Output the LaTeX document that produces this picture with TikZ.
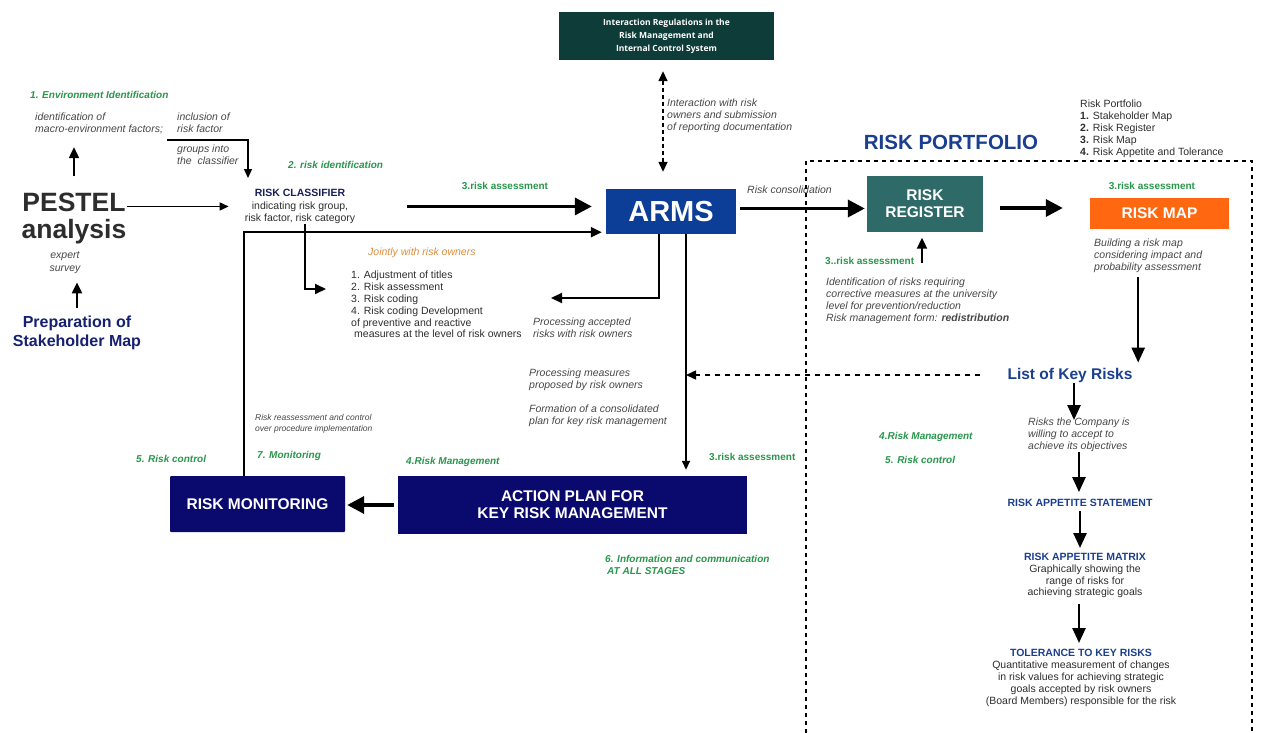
\documentclass[tikz,border=0pt]{standalone}
\usepackage{fontspec}
\setmainfont{Liberation Sans}
\newfontfamily\boxfont{Open Sans}
\usetikzlibrary{arrows.meta,positioning,calc}

\definecolor{armsblue}{RGB}{12,62,152}
\definecolor{navybox}{RGB}{10,10,110}
\definecolor{regteal}{RGB}{46,106,103}
\definecolor{maporange}{RGB}{255,104,16}
\definecolor{icsgreen}{RGB}{14,60,56}
\definecolor{stepgreen}{RGB}{40,150,75}
\definecolor{notegray}{RGB}{70,70,70}
\definecolor{textgray}{RGB}{45,45,45}
\definecolor{titleblue}{RGB}{27,63,143}
\definecolor{stakenavy}{RGB}{22,32,110}
\definecolor{clfnavy}{RGB}{26,31,90}
\definecolor{jointorange}{RGB}{220,140,60}

\begin{document}
\begin{tikzpicture}[
    x=1pt, y=-1pt,
    box/.style={text=white, align=center, inner sep=0pt, font=\fontsize{15.5}{17}\selectfont\bfseries},
    note/.style={anchor=north west, align=left, inner sep=0pt, text=notegray, font=\fontsize{10.5}{11.8}\selectfont\itshape},
    plain/.style={anchor=north west, align=left, inner sep=0pt, text=textgray, font=\fontsize{10.5}{11.8}\selectfont},
    stage/.style={anchor=west, inner sep=0pt, text=stepgreen, font=\fontsize{10}{12}\selectfont\bfseries\itshape},
    assess/.style={anchor=west, inner sep=0pt, text=stepgreen, font=\fontsize{10}{12}\selectfont\bfseries},
    heading/.style={inner sep=0pt, text=titleblue, font=\fontsize{15.5}{18}\selectfont\bfseries},
    bigarrow/.style={line width=3.5pt, -{Triangle[length=17pt,width=17pt]}},
    vertarrow/.style={line width=2.5pt, -{Triangle[length=15pt,width=13pt]}},
    medarrow/.style={line width=2pt, -{Triangle[length=11pt,width=10pt]}},
    thinarrow/.style={line width=1.4pt, -{Triangle[length=9pt,width=8pt]}},
    dasharrow/.style={line width=1.5pt, dash pattern=on 5pt off 5pt, -{Triangle[length=10pt,width=9pt]}}
]
\useasboundingbox (0,0) rectangle (1261,733);

% boxes
\node[box, fill=icsgreen, minimum width=215pt, minimum height=48pt,
      font=\boxfont\fontsize{8.5}{13}\selectfont\bfseries] (ics) at (666.5,36)
      {Interaction Regulations in the\\Risk Management and\\Internal Control System};
\node[box, fill=armsblue, minimum width=130pt, minimum height=45pt,
      font=\fontsize{29}{30}\selectfont\bfseries] (arms) at (671,211.5) {ARMS};
\node[box, fill=regteal, minimum width=116pt, minimum height=56pt] (register) at (925,203.5) {RISK\\REGISTER};
\node[box, fill=maporange, minimum width=139pt, minimum height=31pt] (riskmap) at (1159.5,213.5) {RISK MAP};
\node[box, fill=navybox, rounded corners=1pt, minimum width=175pt, minimum height=56pt] (monitor) at (257.5,504) {RISK MONITORING};
\node[box, fill=navybox, minimum width=349pt, minimum height=58pt] (actplan) at (572.5,505) {ACTION PLAN FOR\\KEY RISK MANAGEMENT};

% left part
\node[stage] (envid) at (30,95) {1. Environment Identification};
\node[note] (macro) at (35,113) {identification of\\macro-environment factors;};
\node[note] (incl) at (177,113) {inclusion of\\risk factor};
\node[note] (groups) at (177,145) {groups into\\the\ \ classifier};
\node[inner sep=0pt, align=center, text=textgray, font=\fontsize{26.5}{27}\selectfont\bfseries] (pestel) at (74,218) {PESTEL\\analysis};
\node[note, anchor=north, align=center, font=\fontsize{10.5}{13}\selectfont\itshape] (survey) at (65,252) {expert\\survey};
\node[inner sep=0pt, align=center, text=stakenavy, font=\fontsize{16}{19}\selectfont\bfseries] (stake) at (77,333) {Preparation of\\Stakeholder Map};

\node[stage] (riskid) at (288,165) {2. risk identification};
\node[anchor=north, align=center, inner sep=0pt, text=textgray, font=\fontsize{10.5}{12.5}\selectfont] (clf) at (300,189)
      {\textcolor{clfnavy}{\textbf{RISK CLASSIFIER}}\\indicating risk group,\\risk factor, risk category};
\node[assess, anchor=center] (assessA) at (505,186) {3.risk assessment};
\node[note, anchor=west, text=jointorange] (jointly) at (368,253) {Jointly with risk owners};
\node[plain] (steps) at (351,271) {1. Adjustment of titles\\2. Risk assessment\\3. Risk coding\\4. Risk coding Development\\of preventive and reactive\\\hspace*{3pt}measures at the level of risk owners};
\node[note] (accepted) at (533,318) {Processing accepted\\risks with risk owners};
\node[note] (proposed) at (529,369) {Processing measures\\proposed by risk owners};
\node[note] (formation) at (529,405) {Formation of a consolidated\\plan for key risk management};
\node[note, font=\fontsize{8.5}{11.5}\selectfont\itshape] (reassess) at (255,414) {Risk reassessment and control\\over procedure implementation};

\node[stage] (ctrlA) at (136,459) {5. Risk control};
\node[stage] (monit) at (257,456) {7. Monitoring};
\node[stage] (mgmtA) at (406,462) {4.Risk Management};
\node[assess] (assessB) at (709,457) {3.risk assessment};
\node[stage, anchor=north west, align=left] (infocomm) at (605,555) {6. Information and communication\\\hspace*{2pt}AT ALL STAGES};

% middle top
\node[note] (interact) at (667,99) {Interaction with risk\\owners and submission\\of reporting documentation};
\node[note, anchor=west] (consol) at (747,190) {Risk consolidation};

% risk portfolio
\node[inner sep=0pt, text=titleblue, font=\fontsize{20.5}{22}\selectfont\bfseries] (pftitle) at (951,142) {RISK PORTFOLIO};
\node[plain] (pflist) at (1080,100) {Risk Portfolio\\\textbf{1.} Stakeholder Map\\\textbf{2.} Risk Register\\\textbf{3.} Risk Map\\\textbf{4.} Risk Appetite and Tolerance};
\node[assess, anchor=center] (assessMap) at (1152,186) {3.risk assessment};
\node[note] (mapnote) at (1094,239) {Building a risk map\\considering impact and\\probability assessment};
\node[assess] (assessReg) at (825,261) {3..risk assessment};
\node[note] (identnote) at (826,278) {Identification of risks requiring\\corrective measures at the university\\level for prevention/reduction\\Risk management form: \textbf{redistribution}};
\node[heading] (keyrisks) at (1070,375) {List of Key Risks};
\node[note] (accept) at (1028,418) {Risks the Company is\\willing to accept to\\achieve its objectives};
\node[heading, font=\fontsize{10.5}{12}\selectfont\bfseries] (statement) at (1080,503) {RISK APPETITE STATEMENT};
\node[anchor=north, align=center, inner sep=0pt, text=textgray, font=\fontsize{10.5}{11.8}\selectfont] (matrix) at (1085,553)
      {\textcolor{titleblue}{\textbf{RISK APPETITE MATRIX}}\\Graphically showing the\\range of risks for\\achieving strategic goals};
\node[anchor=north, align=center, inner sep=0pt, text=textgray, font=\fontsize{10.5}{12}\selectfont] (tolerance) at (1081,649)
      {\textcolor{titleblue}{\textbf{TOLERANCE TO KEY RISKS}}\\Quantitative measurement of changes\\in risk values for achieving strategic\\goals accepted by risk owners\\(Board Members) responsible for the risk};
\node[stage] (mgmtB) at (879,437) {4.Risk Management};
\node[stage] (ctrlB) at (885,460) {5. Risk control};

% portfolio frame
\draw[line width=1.5pt, dash pattern=on 4pt off 4pt] (806,733) |- (1252,161) -- (1252,733);

% connectors
\draw[medarrow, shorten <=16pt, shorten >=13pt] (pestel.north) -- (pestel.north |- macro.south);
\draw[medarrow, shorten <=8pt, shorten >=8pt] (stake.north) -- (stake.north |- survey.south);
\draw[thinarrow] ([xshift=-10pt,yshift=-27pt]incl.north west) -| ([xshift=-52pt,yshift=11pt]clf.north);
\draw[thinarrow, shorten >=16pt] (pestel.east |- clf.west) -- (clf.west);
\draw[medarrow] ([xshift=5pt]clf.south) |- ([xshift=-25pt,yshift=-18pt]steps.north west);
\draw[bigarrow, shorten <=52pt, shorten >=14pt] (clf.east) -- (clf.east -| arms.west);
\draw[medarrow] ([xshift=-14pt]monitor.north) |- ([xshift=-4pt,yshift=2pt]arms.south west);
\draw[medarrow] ([xshift=-12pt]arms.south) |- ([xshift=18pt,yshift=20pt]accepted.north west);
\coordinate (armsdrop) at ([xshift=15pt]arms.south);
\draw[thinarrow, line width=1.6pt, shorten >=6pt] (armsdrop) -- (armsdrop |- actplan.north);
\draw[dasharrow, shorten <=27pt] (keyrisks.west) -- (keyrisks.west -| armsdrop);
\draw[{Triangle[length=10pt,width=9pt]}-{Triangle[length=10pt,width=9pt]}, line width=1.5pt,
      dash pattern=on 4pt off 3pt, shorten <=11pt, shorten >=17pt]
      ([xshift=-3.5pt]ics.south) -- ([xshift=-3.5pt]ics.south |- arms.north);
\draw[bigarrow, shorten <=4pt, shorten >=2pt] ([yshift=3pt]arms.east) -- ([yshift=3pt]arms.east -| register.west);
\draw[bigarrow, shorten <=17pt, shorten >=27pt] ([yshift=-4.5pt]register.east) -- ([yshift=-4.5pt]register.east -| riskmap.west);
\draw[medarrow, shorten <=15pt, shorten >=6pt] ([xshift=-3pt]register.south |- identnote.north) -- ([xshift=-3pt]register.south);
\draw[vertarrow, shorten <=4pt, shorten >=5pt] ([xshift=-10pt]mapnote.south) -- ([xshift=-10pt]mapnote.south |- keyrisks.north);
\draw[vertarrow, shorten <=1pt, shorten >=-2pt] ([xshift=4pt]keyrisks.south) -- ([xshift=4pt]keyrisks.south |- accept.north);
\draw[vertarrow, shorten >=7pt] (accept.south) -- (accept.south |- statement.north);
\draw[vertarrow, shorten <=4pt, shorten >=5pt] (statement.south) -- (statement.south |- matrix.north);
\draw[vertarrow, shorten <=6pt, shorten >=6pt] ([xshift=-6pt]matrix.south) -- ([xshift=-6pt]matrix.south |- tolerance.north);
\draw[bigarrow, shorten <=4pt, shorten >=2pt] (actplan.west) -- (actplan.west -| monitor.east);
\end{tikzpicture}
\end{document}
